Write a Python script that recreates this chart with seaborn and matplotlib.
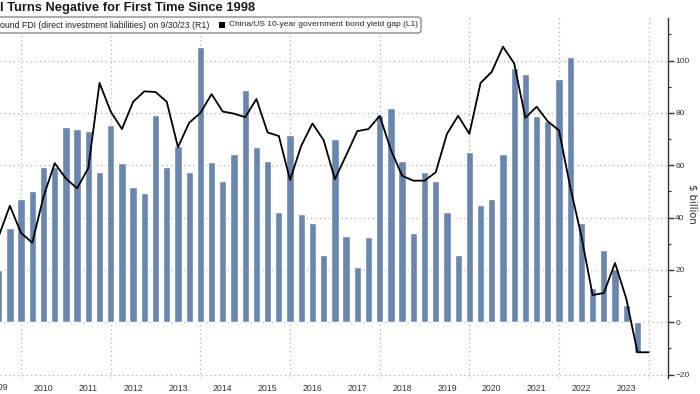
import numpy as np
import pandas as pd
import matplotlib
matplotlib.use("Agg")
import matplotlib.pyplot as plt
from matplotlib.patches import FancyBboxPatch, Rectangle
from matplotlib.ticker import MultipleLocator, FixedLocator, NullFormatter
import seaborn as sns

# ---------------- data ----------------
bar_quarters = pd.period_range("2009Q2", "2023Q3", freq="Q")
fdi_bn = [20.0, 35.9, 47.1, 50.3, 59.2, 59.5, 74.8, 73.8, 73.1, 57.6,
          75.5, 61.0, 51.6, 49.3, 79.2, 59.5, 67.5, 57.3, 105.4, 61.3,
          53.9, 64.2, 88.8, 66.9, 61.8, 42.3, 71.6, 41.3, 37.8, 25.8,
          70.1, 33.0, 21.1, 32.6, 79.2, 81.8, 61.8, 34.3, 57.6, 53.9,
          42.0, 25.6, 65.2, 44.7, 47.0, 64.3, 97.0, 95.0, 78.7, 76.9,
          93.1, 101.3, 38.1, 13.1, 27.6, 20.5, 6.6, -11.8]

line_quarters = pd.period_range("2009Q2", "2023Q4", freq="Q")
yield_gap_pp = [-0.27, 0.17, -0.22, -0.36, 0.30, 0.78, 0.56, 0.42, 0.71, 1.93,
                1.52, 1.27, 1.66, 1.81, 1.80, 1.66, 1.01, 1.36, 1.50, 1.77,
                1.52, 1.49, 1.44, 1.70, 1.22, 1.17, 0.54, 1.03, 1.35, 1.11,
                0.55, 0.89, 1.24, 1.27, 1.46, 0.97, 0.60, 0.53, 0.53, 0.65,
                1.20, 1.46, 1.20, 1.93, 2.09, 2.45, 2.21, 1.43, 1.59, 1.38,
                1.25, 0.44, -0.27, -1.11, -1.08, -0.65, -1.16, -1.93, -1.93]

year_labels = list(range(2009, 2024))
right_ticks = [-20, 0, 20, 40, 60, 80, 100]

title_text = "I Turns Negative for First Time Since 1998"
legend1_text = "ound FDI (direct investment liabilities) on 9/30/23 (R1)"
legend2_text = "China/US 10-year government bond yield gap (L1)"
unit_text = "$ billion"

# quarter-end positions as decimal years
def qpos(periods):
    return np.array([p.qyear + p.quarter / 4.0 for p in periods])

bars_df = pd.DataFrame({"t": qpos(bar_quarters), "fdi": fdi_bn})
line_df = pd.DataFrame({"t": qpos(line_quarters), "gap": yield_gap_pp})

# ---------------- figure ----------------
sns.set_theme(style="white")
plt.rcParams["font.family"] = ["Liberation Sans", "DejaVu Sans"]

W, H = 700, 394
fig = plt.figure(figsize=(W / 100, H / 100), dpi=100)
top_px, bot_px, right_px = 18, 378, 667.5
ax = fig.add_axes([0, 1 - bot_px / H, right_px / W, (bot_px - top_px) / H])

bar_color = "#6b86ae"
sns.barplot(data=bars_df, x="t", y="fdi", native_scale=True, width=0.65,
            color=bar_color, saturation=1, errorbar=None, ax=ax, zorder=2)

XMIN, XMAX = 2009.53, 2024.42
ymin_r, ymax_r = -21.3, 116.3
ax.set_xlim(XMIN, XMAX)
ax.set_ylim(ymin_r, ymax_r)

# left (hidden) axis for the yield gap: aligned so -2.25 <-> -20 and 2.25 <-> 100
ax2 = ax.twinx()
sns.lineplot(data=line_df, x="t", y="gap", color="black", lw=1.3, ax=ax2,
             errorbar=None, zorder=5)
ax2.set_ylim((ymin_r - 40) * 0.0375, (ymax_r - 40) * 0.0375)
ax2.set_xlim(XMIN, XMAX)
ax2.set_yticks([])
ax2.set_ylabel("")
ax2.set_xlabel("")
ax2.tick_params(axis="both", which="both", left=False, right=False,
                labelleft=False, labelright=False, bottom=False, labelbottom=False)
for s in ax2.spines.values():
    s.set_visible(False)

# right axis for bars (after twinx, which resets tick side)
ax.yaxis.tick_right()
ax.yaxis.set_major_locator(FixedLocator(right_ticks))
ax.yaxis.set_minor_locator(MultipleLocator(10))
ax.tick_params(axis="y", which="major", direction="out", length=4, width=1,
               color="#333333", labelsize=6.0, labelcolor="#333333", pad=1.5,
               left=False, labelleft=False, right=True, labelright=True)
ax.tick_params(axis="y", which="minor", direction="out", length=2, width=0.8,
               color="#333333", left=False, right=True)
ax.set_ylabel("")
fig.text(693 / W, 1 - 204 / H, unit_text, rotation=270, ha="center", va="center",
         fontsize=7.2, color="#333333", family=["DejaVu Sans"])

# x axis: separators at year boundaries, labels mid-year
ax.xaxis.set_minor_locator(FixedLocator([y for y in range(2010, 2025)]))
ax.xaxis.set_major_locator(FixedLocator([y + 0.5 for y in year_labels]))
ax.set_xticklabels([str(y) for y in year_labels])
ax.xaxis.set_minor_formatter(NullFormatter())
ax.tick_params(axis="x", which="major", length=0, labelsize=6.3,
               labelcolor="#333333", pad=4)
ax.tick_params(axis="x", which="minor", direction="out", length=17, width=0.8,
               color="#555555")
ax.set_xlabel("")
# first year label sits partly outside the view limits; draw it unclipped
ax.text(year_labels[0] + 0.5, -4.5 / (bot_px - top_px), str(year_labels[0]),
        transform=ax.get_xaxis_transform(), ha="center", va="top",
        fontsize=6.3, color="#333333", clip_on=False)

# grids
ax.set_axisbelow(True)
ax.yaxis.grid(True, which="major", linestyle=(0, (1, 2.5)), color="#b0b0b0", lw=0.9)
ax.xaxis.grid(False)
for yr in range(2010, 2025, 2):
    ax.axvline(yr, linestyle=(0, (1, 2.5)), color="#b0b0b0", lw=0.9, zorder=0)

for s in ["top", "left", "bottom"]:
    ax.spines[s].set_visible(False)
ax.spines["right"].set_color("#333333")
ax.spines["right"].set_linewidth(1.0)

# ---------------- title & legend ----------------
fig.text(0, 1 - 2 / H, title_text, ha="left", va="top", fontsize=9.3,
         fontweight="bold", color="#1a1a1a")

def fx(px):
    return px / W

def fy(py):
    return 1 - py / H

box = FancyBboxPatch((fx(-10), fy(33)), fx(431), (16) / H,
                     boxstyle="round,pad=0,rounding_size=0.006",
                     transform=fig.transFigure, facecolor="white",
                     edgecolor="#8a8a8a", lw=1.0, zorder=10)
fig.add_artist(box)
fig.text(fx(0), fy(25), legend1_text, ha="left", va="center", fontsize=6.3,
         color="#222222", zorder=11)
sq = Rectangle((fx(219), fy(28)), fx(6.5), 6.5 / H, transform=fig.transFigure,
               facecolor="black", edgecolor="none", zorder=11)
fig.add_artist(sq)
fig.text(fx(229), fy(25), legend2_text, ha="left", va="center", fontsize=6.0,
         color="#222222", zorder=11)

fig.savefig("out.png", dpi=100)
